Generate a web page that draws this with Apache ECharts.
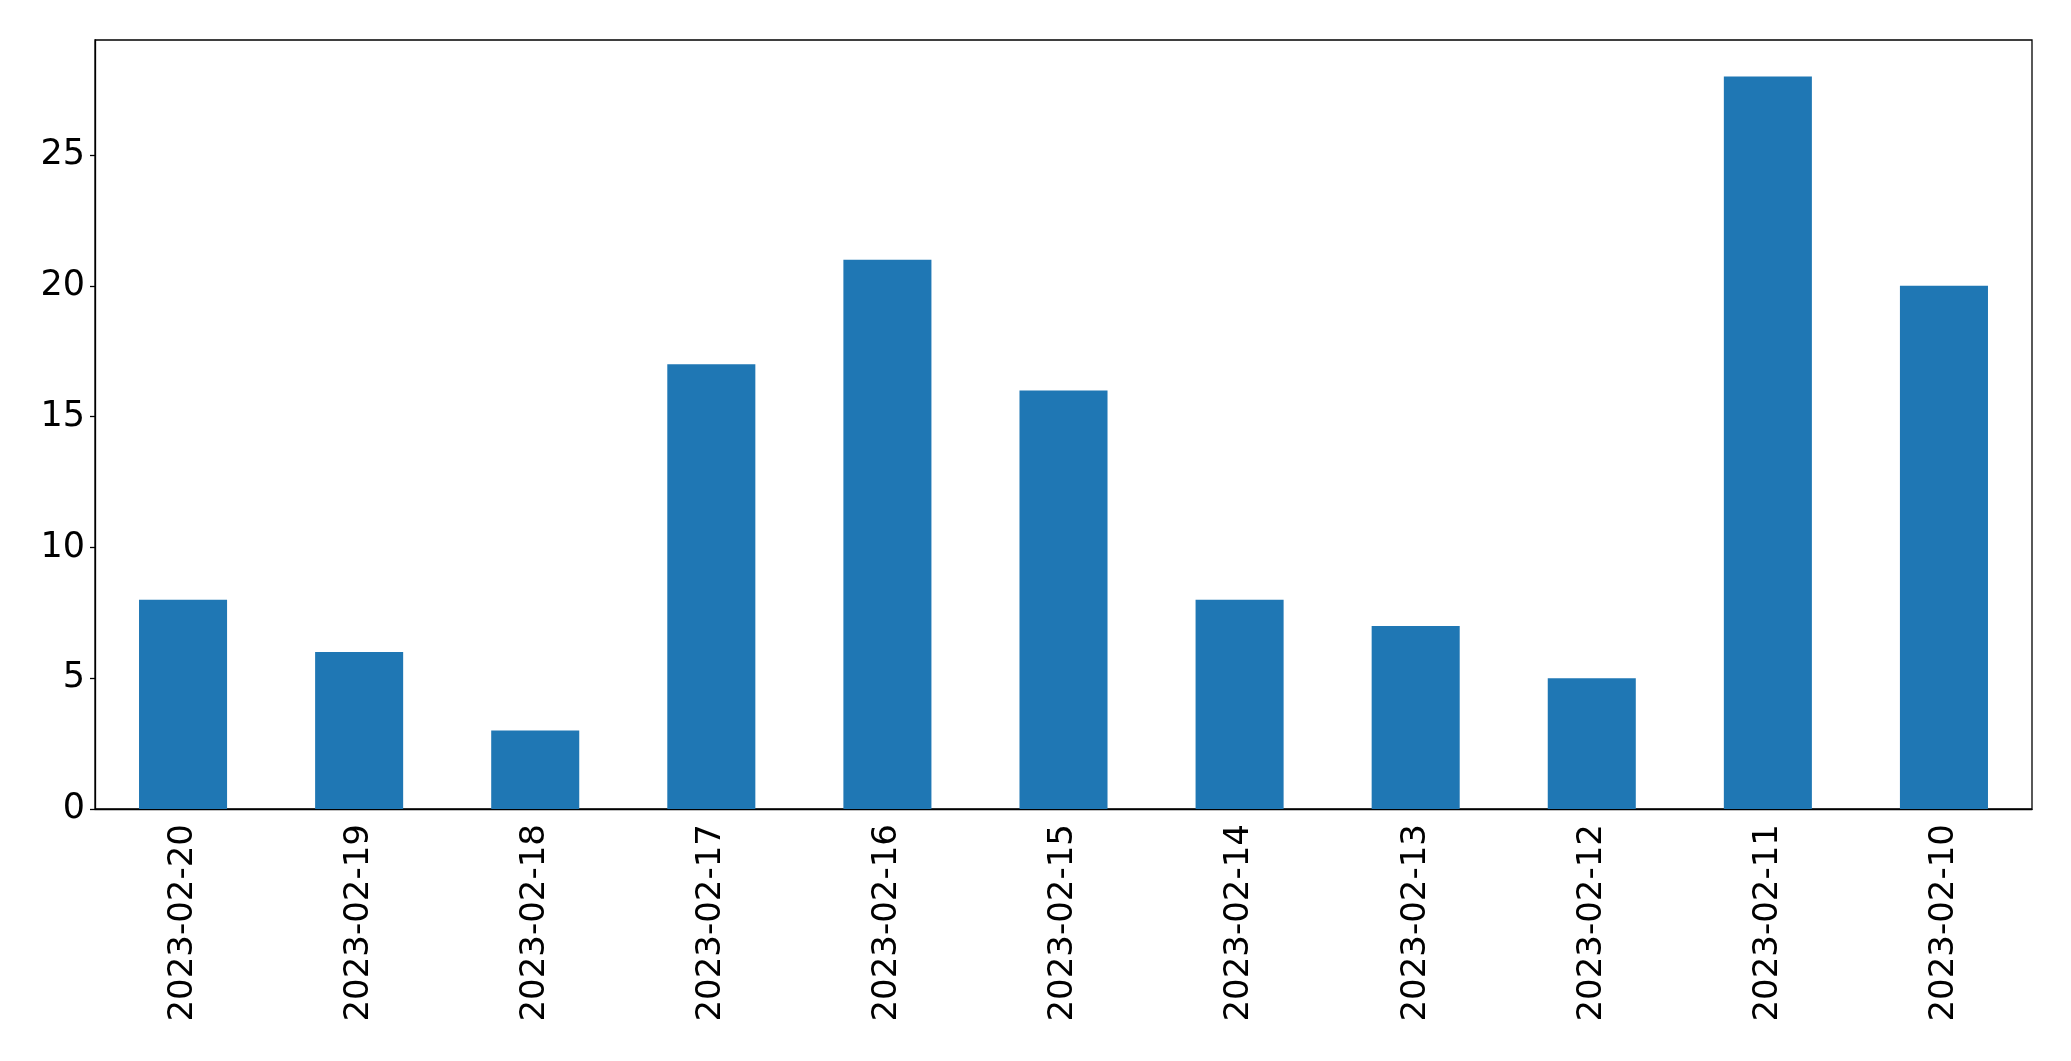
<!DOCTYPE html>
<html><head><meta charset="utf-8">
<script src="https://cdn.jsdelivr.net/npm/echarts@6/dist/echarts.min.js"></script>
<style>html,body{margin:0;padding:0;background:#fff}#c{width:2071px;height:1061px}</style>
</head><body><div id="c"></div>
<script>
const categories = ["2023-02-20","2023-02-19","2023-02-18","2023-02-17","2023-02-16","2023-02-15","2023-02-14","2023-02-13","2023-02-12","2023-02-11","2023-02-10"];
const values = [8,6,3,17,21,16,8,7,5,28,20];
const yTicks = [0,5,10,15,20,25];

const chart = echarts.init(document.getElementById('c'), null, {renderer:'canvas'});
chart.setOption({
  animation:false,
  backgroundColor:'#fff',
  grid:{left:95,right:39,top:40,bottom:252,show:true,borderColor:'#000',borderWidth:1.3,backgroundColor:'transparent'},
  xAxis:{
    type:'category', data:categories,
    axisLine:{lineStyle:{color:'#000',width:1.3}},
    axisTick:{alignWithLabel:true,length:5,lineStyle:{color:'#000',width:1.3}},
    axisLabel:{rotate:90,margin:15,color:'#000',fontSize:34,fontFamily:'DejaVu Sans'}
  },
  yAxis:{
    type:'value', min:0, max:29.4, interval:5,
    splitLine:{show:false},
    axisLine:{show:true,lineStyle:{color:'#000',width:1.3}},
    axisTick:{show:true,length:5,customValues:yTicks,lineStyle:{color:'#000',width:1.3}},
    axisLabel:{margin:10,color:'#000',fontSize:35,fontFamily:'DejaVu Sans',customValues:yTicks}
  },
  series:[{type:'bar',data:values,barWidth:'50%',itemStyle:{color:'#1f77b4'}}]
});
</script></body></html>
